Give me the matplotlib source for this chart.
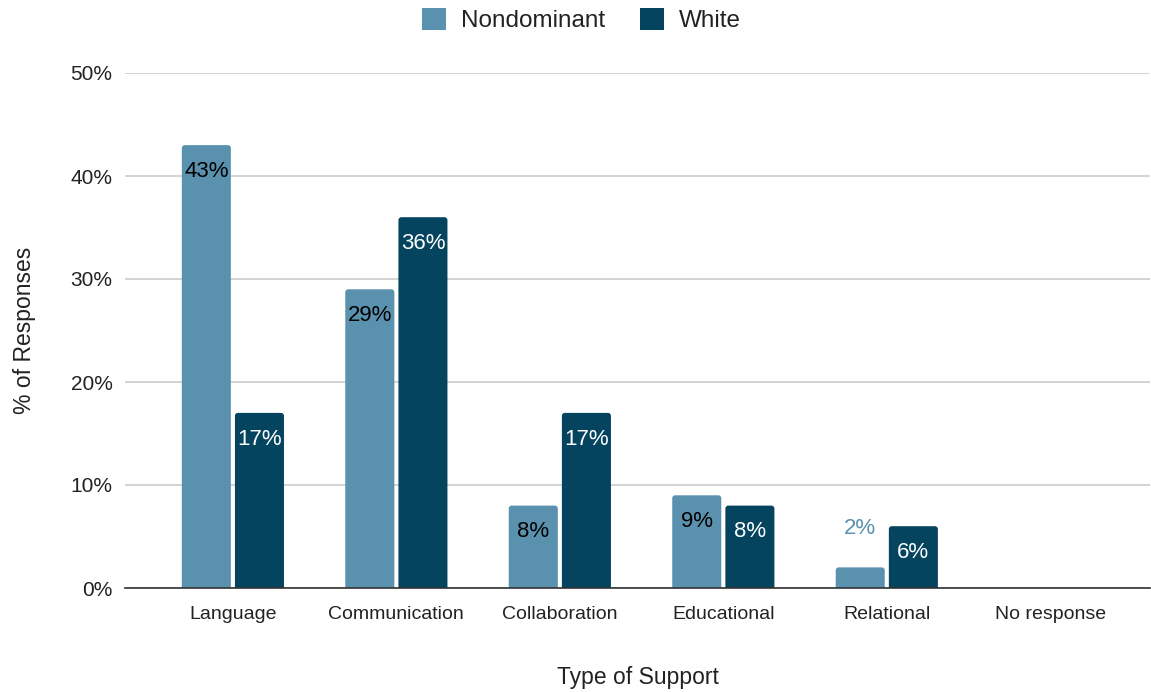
import matplotlib
matplotlib.use("Agg")
import matplotlib.pyplot as plt
from matplotlib.patches import FancyBboxPatch, Patch
import numpy as np

categories = ["Language", "Communication", "Collaboration", "Educational", "Relational", "No response"]
nondominant = [43, 29, 8, 9, 2, 0]
white = [17, 36, 17, 8, 6, 0]
yticks = [0, 10, 20, 30, 40, 50]

light = "#5a91ae"
dark = "#05445f"

plt.rcParams["font.family"] = ["Liberation Sans", "DejaVu Sans"]


def round_bars(ax, bars, color):
    # swap plain rectangles for ones with slightly rounded top corners
    for rect in bars:
        h = rect.get_height()
        rect.set_visible(False)
        if h == 0:
            continue
        p = FancyBboxPatch((rect.get_x(), -1), rect.get_width(), h + 1,
                           boxstyle="round,pad=0,rounding_size=0.018",
                           mutation_aspect=16, color=color, zorder=3,
                           linewidth=0)
        ax.add_patch(p)


fig = plt.figure(figsize=(11.51, 6.92), dpi=100)
ax = fig.add_axes([125 / 1151, 1 - 588 / 692, 1025 / 1151, (588 - 73) / 692])

x = np.arange(len(categories))
w = 0.30
gap = 0.025
b1 = ax.bar(x - w / 2 - gap / 2, nondominant, w, color=light, zorder=3)
b2 = ax.bar(x + w / 2 + gap / 2, white, w, color=dark, zorder=3)
round_bars(ax, b1, light)
round_bars(ax, b2, dark)

for rect, v in zip(b1, nondominant):
    if v == 0:
        continue
    cx = rect.get_x() + rect.get_width() / 2
    if v >= 5:
        ax.annotate(f"{v}%", (cx, v), xytext=(0, -19), textcoords="offset points",
                    ha="center", va="center", fontsize=16, color="black", zorder=4)
    else:
        ax.annotate(f"{v}%", (cx, v), xytext=(0, 28), textcoords="offset points",
                    ha="center", va="center", fontsize=16, color=light, zorder=4)

for rect, v in zip(b2, white):
    if v == 0:
        continue
    cx = rect.get_x() + rect.get_width() / 2
    ax.annotate(f"{v}%", (cx, v), xytext=(0, -19), textcoords="offset points",
                ha="center", va="center", fontsize=16, color="white", zorder=4)

ax.set_xlim(-0.66, 5.61)
ax.set_ylim(0, 50)
ax.set_yticks(yticks)
ax.set_yticklabels([f"{t}%" for t in yticks], fontsize=15, color="#222222")
ax.set_xticks(x)
ax.set_xticklabels(categories, fontsize=14, color="#222222")
ax.tick_params(axis="both", length=0)
ax.tick_params(axis="y", pad=9)
ax.tick_params(axis="x", pad=13)
ax.grid(axis="y", color="#cccccc", linewidth=1.2, zorder=0)
for s in ["top", "right", "left"]:
    ax.spines[s].set_visible(False)
ax.spines["bottom"].set_color("#333333")
ax.spines["bottom"].set_linewidth(1.2)
ax.spines["bottom"].set_zorder(4)

ax.set_ylabel("% of Responses", fontsize=16.5, color="#222222", labelpad=25)
ax.set_xlabel("Type of Support", fontsize=16.5, color="#222222", labelpad=31)

handles = [Patch(facecolor=light, label="Nondominant"),
           Patch(facecolor=dark, label="White")]
fig.legend(handles=handles, loc="upper center", bbox_to_anchor=(0.505, 1.02), ncol=2,
           frameon=False, fontsize=17.5, handlelength=1.0, handleheight=1.0,
           columnspacing=1.45, handletextpad=0.6, labelcolor="#222222")

fig.savefig("out.png", dpi=100)
